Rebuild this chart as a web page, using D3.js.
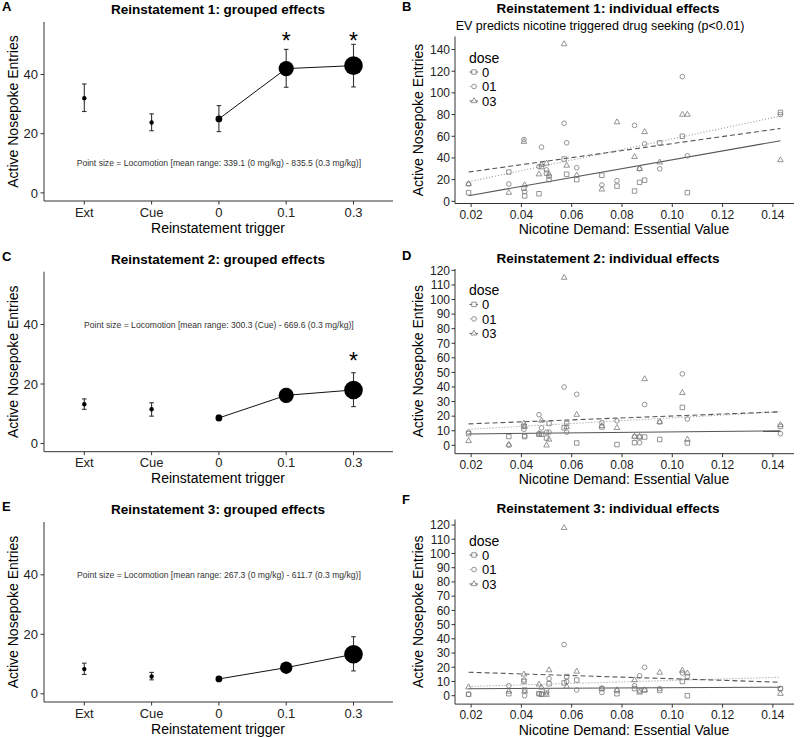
<!DOCTYPE html>
<html>
<head>
<meta charset="utf-8">
<script src="https://cdn.jsdelivr.net/npm/d3@7"></script>
<style>
  body { margin: 0; background: #fff; }
  svg { font-family: "Liberation Sans", Arial, sans-serif; }
</style>
</head>
<body>
<svg id="chart" width="800" height="738"></svg>
<script>
// grouped effects (left column)
var triggers = ["Ext", "Cue", "0", "0.1", "0.3"];
var doseTriggers = ["0", "0.1", "0.3"];

var r1Mean = [32, 23.8, 25, 42, 43];
var r1Lo   = [27.5, 21, 20.7, 35.7, 35.8];
var r1Hi   = [36.8, 26.7, 29.5, 48.5, 50.2];
var r1Loco = [339.1, 590, 835.5];
var r1Sig  = ["0.1", "0.3"];
var r1SigY = [52.9, 52.9];

var r2Mean = [13.2, 11.5, 8.6, 16.2, 18];
var r2Lo   = [11.5, 9.2, 7.7, 14, 12.4];
var r2Hi   = [15, 13.7, 9.5, 18.5, 23.8];
var r2Loco = [330, 500, 669.6];
var r2Sig  = ["0.3"];
var r2SigY = [29.4];

var r3Mean = [8.3, 5.8, 5, 8.8, 13.3];
var r3Lo   = [6.5, 4.7, 4.5, 7.6, 7.7];
var r3Hi   = [10.3, 7.2, 5.5, 10.1, 19.2];
var r3Loco = [267.3, 348, 611.7];
var r3Sig  = [];
var r3SigY = [];

var groupedTicks = [0, 20, 40];

// individual effects (right column), one entry per rat
var ev = [0.019, 0.035, 0.041, 0.0413, 0.047, 0.048, 0.050, 0.051, 0.057, 0.058,
          0.062, 0.072, 0.078, 0.085, 0.087, 0.089, 0.095, 0.104, 0.106, 0.143];

var b0  = [8, 27, 12, 5, 7, 32, 26, 20, 39, 25, 20, 24, 14, 9.5, 17.5, 19.5, 54, 60, 8, 82];
var b01 = [16, 16, 57, 9, 32, 50, 29, 23, 72, 54, 31, 15, 19, 70, 30, 53, 30, 115, 42, 80];
var b03 = [16, 8, 55, 15, 25, 34, 35, 25, 145, 33, 24, 11, 73, 41, 30, 64, 36, 80, 80, 38];

var d0  = [8, 6, 13, 6, 7.6, 7.6, 5, 15, 12, 15, 1.6, 12.6, 0.5, 1.8, 5.7, 5.7, 4, 26, 1.6, 13];
var d01 = [9, 0, 11, 6.5, 21, 12, 9, 9, 40, 9, 35, 15.6, 16.8, 6, 1.8, 28, 16, 49, 18, 8];
var d03 = [3, 0.5, 15, 13, 8, 17, 0, 4, 115, 12.6, 21, 13.3, 12, 6, 6, 45.5, 16, 36, 4, 14];

var f0  = [1, 1.4, 10, 4, 1.4, 1, 3.5, 8.4, 9, 13.5, 11, 5, 1.4, 5, 3.5, 4, 3.7, 10, 0, 5];
var f01 = [1, 7, 11, 0, 1.4, 1, 2, 12, 36, 10, 4, 2.3, 3.5, 7, 14, 20, 5, 16, 13.5, 5];
var f03 = [6, 3, 15, 3, 8, 5.8, 0.7, 18, 118, 6.5, 17, 5, 4, 11, 2.3, 4, 16.3, 17.7, 15.8, 1.4];

// lm fit: [y at first ev, y at last ev] for dose 0, 01, 03
var bFit = [[5.2, 55.9], [18, 78.6], [27, 67.2]];
var dFit = [[7.8, 9.9], [11, 23], [14.7, 23]];
var fFit = [[4.9, 6], [6.5, 13], [16.5, 9.5]];

var doses = ["0", "01", "03"];
var evTicks = [0.02, 0.04, 0.06, 0.08, 0.10, 0.12, 0.14];

var svg = d3.select("#chart");
var axisCol = "#333";
var textCol = "#222";

function drawGrouped(p) {
  var g = svg.append("g");
  var x = d3.scalePoint().domain(triggers).range([84.3, 353.5]);
  var y = d3.scaleLinear().domain([-2.75, 57.75]).range([p.bottom, p.top]);

  g.append("text").attr("x", 2).attr("y", p.top - 11).attr("font-weight", "bold")
    .attr("font-size", 13).text(p.label);
  g.append("text").attr("x", 218).attr("y", p.top - 8).attr("text-anchor", "middle")
    .attr("font-weight", "bold").attr("font-size", 13.5).text(p.title);

  // axes
  g.append("line").attr("x1", 44).attr("x2", 44).attr("y1", p.top).attr("y2", p.bottom)
    .attr("stroke", axisCol);
  g.append("line").attr("x1", 44).attr("x2", 393).attr("y1", p.bottom).attr("y2", p.bottom)
    .attr("stroke", axisCol);
  groupedTicks.forEach(function(t) {
    g.append("line").attr("x1", 40.5).attr("x2", 44).attr("y1", y(t)).attr("y2", y(t))
      .attr("stroke", axisCol);
    g.append("text").attr("x", 38).attr("y", y(t)).attr("dy", "0.36em")
      .attr("text-anchor", "end").attr("font-size", 13).attr("fill", textCol).text(t);
  });
  triggers.forEach(function(t) {
    g.append("line").attr("x1", x(t)).attr("x2", x(t)).attr("y1", p.bottom).attr("y2", p.bottom + 3.5)
      .attr("stroke", axisCol);
    g.append("text").attr("x", x(t)).attr("y", p.bottom + 15.5).attr("text-anchor", "middle")
      .attr("font-size", 13).attr("fill", textCol).text(t);
  });
  g.append("text").attr("x", 218).attr("y", p.bottom + 31.5).attr("text-anchor", "middle")
    .attr("font-size", 14).text("Reinstatement trigger");
  g.append("text").attr("transform", "translate(18," + ((p.top + p.bottom) / 2) + ") rotate(-90)")
    .attr("text-anchor", "middle").attr("font-size", 14).text("Active Nosepoke Entries");

  // note
  g.append("text").attr("x", x("0")).attr("y", y(p.noteY)).attr("dy", "0.35em")
    .attr("text-anchor", "middle").attr("font-size", 8.6).attr("fill", "#333").text(p.note);

  // error bars
  triggers.forEach(function(t, i) {
    var cx = x(t);
    g.append("line").attr("x1", cx).attr("x2", cx).attr("y1", y(p.lo[i])).attr("y2", y(p.hi[i]))
      .attr("stroke", "#333").attr("stroke-width", 1.1);
    [p.lo[i], p.hi[i]].forEach(function(v) {
      g.append("line").attr("x1", cx - 2.3).attr("x2", cx + 2.3).attr("y1", y(v)).attr("y2", y(v))
        .attr("stroke", "#333").attr("stroke-width", 1.1);
    });
  });

  // line through dose points
  var line = d3.line().x(function(d) { return x(d); })
    .y(function(d) { return y(p.mean[triggers.indexOf(d)]); });
  g.append("path").attr("d", line(doseTriggers)).attr("fill", "none")
    .attr("stroke", "#111").attr("stroke-width", 1);

  // point size = locomotion
  var lmin = d3.min(p.loco), lmax = d3.max(p.loco);
  var t01 = d3.scaleLinear().domain([lmin, lmax]).range([0, 1]);
  var rad = d3.scaleLinear().domain([0, 1]).range([3.4, 9.3]);
  triggers.forEach(function(t, i) {
    var k = doseTriggers.indexOf(t);
    var r = k < 0 ? 2.2 : rad(Math.sqrt(t01(p.loco[k])));
    g.append("circle").attr("cx", x(t)).attr("cy", y(p.mean[i])).attr("r", r).attr("fill", "#000");
  });

  // significance stars
  p.sig.forEach(function(t, i) {
    g.append("text").attr("x", x(t)).attr("y", y(p.sigY[i]) + 13).attr("text-anchor", "middle")
      .attr("font-size", 23).text("*");
  });
}

var shapes = [d3.symbolSquare, d3.symbolCircle, d3.symbolTriangle];
var shapeSize = [20, 17, 14];
var lineStyle = [
  {dash: null, col: "#555"},
  {dash: "1,2", col: "#999"},
  {dash: "5,3", col: "#555"}
];

function drawScatter(p) {
  var g = svg.append("g");
  var x = d3.scaleLinear().domain([0.0136, 0.1484]).range([455, 794]);
  var y = d3.scaleLinear().domain(p.yDomain).range([p.bottom, p.top]);

  g.append("text").attr("x", 402).attr("y", p.labelY).attr("font-weight", "bold")
    .attr("font-size", 13).text(p.label);
  g.append("text").attr("x", 608).attr("y", p.titleY).attr("text-anchor", "middle")
    .attr("font-weight", "bold").attr("font-size", 13.5).text(p.title);
  if (p.subtitle) {
    g.append("text").attr("x", 600).attr("y", p.titleY + 17).attr("text-anchor", "middle")
      .attr("font-size", 12.5).text(p.subtitle);
  }

  // axes
  g.append("line").attr("x1", 455).attr("x2", 455).attr("y1", p.top).attr("y2", p.bottom)
    .attr("stroke", axisCol);
  g.append("line").attr("x1", 455).attr("x2", 794).attr("y1", p.bottom).attr("y2", p.bottom)
    .attr("stroke", axisCol);
  p.yTicks.forEach(function(t) {
    g.append("line").attr("x1", 451.5).attr("x2", 455).attr("y1", y(t)).attr("y2", y(t))
      .attr("stroke", axisCol);
    g.append("text").attr("x", 450).attr("y", y(t)).attr("dy", "0.36em")
      .attr("text-anchor", "end").attr("font-size", 12).attr("fill", textCol).text(t);
  });
  evTicks.forEach(function(t) {
    g.append("line").attr("x1", x(t)).attr("x2", x(t)).attr("y1", p.bottom).attr("y2", p.bottom + 3.5)
      .attr("stroke", axisCol);
    g.append("text").attr("x", x(t)).attr("y", p.bottom + 15).attr("text-anchor", "middle")
      .attr("font-size", 12).attr("fill", textCol).text(d3.format(".2f")(t));
  });
  g.append("text").attr("x", 624).attr("y", p.bottom + 30.5).attr("text-anchor", "middle")
    .attr("font-size", 14).text("Nicotine Demand: Essential Value");
  g.append("text").attr("transform", "translate(423," + ((p.top + p.bottom) / 2) + ") rotate(-90)")
    .attr("text-anchor", "middle").attr("font-size", 14).text("Active Nosepoke Entries");

  // fit lines
  var xEnds = [d3.min(ev), d3.max(ev)];
  p.fit.forEach(function(f, k) {
    g.append("line").attr("x1", x(xEnds[0])).attr("x2", x(xEnds[1]))
      .attr("y1", y(f[0])).attr("y2", y(f[1]))
      .attr("stroke", lineStyle[k].col).attr("stroke-width", 1.1)
      .attr("stroke-dasharray", lineStyle[k].dash);
  });

  // points
  p.series.forEach(function(vals, k) {
    var sym = d3.symbol().type(shapes[k]).size(shapeSize[k]);
    g.selectAll(null).data(vals).enter().append("path")
      .attr("d", sym)
      .attr("transform", function(d, i) { return "translate(" + x(ev[i]) + "," + y(d) + ")"; })
      .attr("fill", "none").attr("stroke", "#7a7a7a").attr("stroke-width", 0.8);
  });

  // legend
  var lg = g.append("g").attr("transform", "translate(469," + (p.top + 26) + ")");
  lg.append("text").attr("x", 0).attr("y", 0).attr("font-size", 14).text("dose");
  doses.forEach(function(d, k) {
    var cy = 9.5 + k * 14.5;
    lg.append("line").attr("x1", 0.5).attr("x2", 9).attr("y1", cy).attr("y2", cy)
      .attr("stroke", lineStyle[k].col).attr("stroke-width", 1)
      .attr("stroke-dasharray", k === 1 ? "1,1.2" : null);
    lg.append("path").attr("d", d3.symbol().type(shapes[k]).size(shapeSize[k]))
      .attr("transform", "translate(5," + cy + ")")
      .attr("fill", "#fff").attr("stroke", "#7a7a7a").attr("stroke-width", 0.8);
    lg.append("text").attr("x", 13).attr("y", cy).attr("dy", "0.36em")
      .attr("font-size", 13).text(d);
  });
}

drawGrouped({label: "A", title: "Reinstatement 1: grouped effects", top: 22, bottom: 201,
  mean: r1Mean, lo: r1Lo, hi: r1Hi, loco: r1Loco, sig: r1Sig, sigY: r1SigY, noteY: 10,
  note: "Point size = Locomotion [mean range: 339.1 (0 mg/kg) - 835.5 (0.3 mg/kg)]"});
drawGrouped({label: "C", title: "Reinstatement 2: grouped effects", top: 271.7, bottom: 451.7,
  mean: r2Mean, lo: r2Lo, hi: r2Hi, loco: r2Loco, sig: r2Sig, sigY: r2SigY, noteY: 40,
  note: "Point size = Locomotion [mean range: 300.3 (Cue) - 669.6 (0.3 mg/kg)]"});
drawGrouped({label: "E", title: "Reinstatement 3: grouped effects", top: 522, bottom: 702,
  mean: r3Mean, lo: r3Lo, hi: r3Hi, loco: r3Loco, sig: r3Sig, sigY: r3SigY, noteY: 40,
  note: "Point size = Locomotion [mean range: 267.3 (0 mg/kg) - 611.7 (0.3 mg/kg)]"});

drawScatter({label: "B", title: "Reinstatement 1: individual effects",
  subtitle: "EV predicts nicotine triggered drug seeking (p<0.01)",
  labelY: 11, titleY: 12.5, top: 36.5, bottom: 203.5, yDomain: [-2, 152],
  yTicks: [0, 20, 40, 60, 80, 100, 120, 140], series: [b0, b01, b03], fit: bFit});
drawScatter({label: "D", title: "Reinstatement 2: individual effects",
  labelY: 260, titleY: 263, top: 268.9, bottom: 453.7, yDomain: [-5.75, 121],
  yTicks: d3.range(0, 121, 10), series: [d0, d01, d03], fit: dFit});
drawScatter({label: "F", title: "Reinstatement 3: individual effects",
  labelY: 504, titleY: 513, top: 519.5, bottom: 704.1, yDomain: [-5.9, 123.9],
  yTicks: d3.range(0, 121, 10), series: [f0, f01, f03], fit: fFit});
</script>
</body>
</html>
